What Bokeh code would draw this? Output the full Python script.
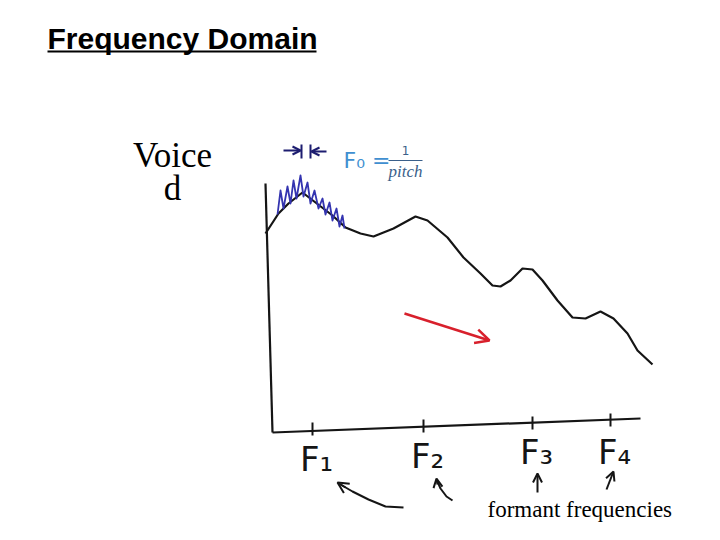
from bokeh.plotting import figure
from bokeh.models import Range1d, Label, Arrow, OpenHead
from bokeh.embed import file_html
from bokeh.resources import INLINE

# spectral envelope (hand-drawn curve), page pixel coords
env_x = [265, 278, 288, 302, 315, 332, 345, 360, 373, 393, 415, 427, 447, 463, 480, 492, 500, 510, 522, 532, 542, 557, 572, 585, 600, 613, 627, 637, 652]
env_y = [233, 213, 203, 192, 202, 215, 227, 233, 236, 228, 216, 220, 237, 257, 273, 285, 286, 280, 268, 269, 280, 300, 317, 318, 311, 318, 333, 350, 364]
# harmonics (blue zig-zag)
harm_x = [277, 280, 283, 287, 290, 293, 296, 300, 303, 307, 310, 314, 318, 322, 325, 329, 332, 336, 339, 342, 344]
harm_y = [214, 190, 208, 186, 203, 180, 198, 175, 196, 182, 203, 190, 208, 198, 214, 202, 220, 208, 226, 215, 228]
# axes of sketch
yaxis_x = [265, 272]
yaxis_y = [183, 432]
xaxis_x = [272, 640]
xaxis_y = [432, 418]
# formant tick positions
formant_x = [312, 423, 532, 610]
formant_y = [428, 425, 422, 419]
formant_labels = ["F\u2081", "F\u2082", "F\u2083", "F\u2084"]
formant_label_y = [458, 455, 451, 451]

p = figure(width=704, height=524, output_backend="svg", toolbar_location=None,
           x_range=Range1d(0, 704), y_range=Range1d(524, 0), min_border=0)
p.axis.visible = False
p.grid.visible = False
p.outline_line_color = None
p.background_fill_color = "white"

ink = "#151515"
# title
p.add_layout(Label(x=47, y=38, text="Frequency Domain", text_font="Liberation Sans",
                   text_font_style="bold", text_font_size="30px", text_color="#000000",
                   text_baseline="middle"))
p.segment(x0=[47], y0=[51], x1=[316], y1=[51], line_color="#000000", line_width=2)

# Voiced
p.add_layout(Label(x=172, y=155, text="Voice", text_font="Liberation Serif", text_color="#000000",
                   text_font_size="35px", text_align="center", text_baseline="middle"))
p.add_layout(Label(x=172, y=188, text="d", text_font="Liberation Serif", text_color="#000000",
                   text_font_size="35px", text_align="center", text_baseline="middle"))

# sketch axes
p.line(yaxis_x, yaxis_y, line_color=ink, line_width=2.2)
p.line(xaxis_x, xaxis_y, line_color=ink, line_width=2.2)
p.segment(x0=formant_x, y0=[y - 6 for y in formant_y], x1=formant_x, y1=[y + 7 for y in formant_y],
          line_color=ink, line_width=2)
for fx, fy, t in zip(formant_x, formant_label_y, formant_labels):
    p.add_layout(Label(x=fx + 4, y=fy, text=t, text_font="DejaVu Sans",
                       text_font_size="34px", text_align="center", text_baseline="middle",
                       text_color=ink))

# envelope and harmonics
p.line(env_x, env_y, line_color=ink, line_width=2.2, line_join="round")
p.line(harm_x, harm_y, line_color="#3434b0", line_width=1.8, line_join="round")

# period marker
navy = "#1d1d70"
p.add_layout(Arrow(x_start=283, y_start=150, x_end=300, y_end=150, line_color=navy, line_width=2,
                   end=OpenHead(size=8, line_color=navy, line_width=2)))
p.add_layout(Arrow(x_start=326, y_start=151, x_end=311, y_end=151, line_color=navy, line_width=2,
                   end=OpenHead(size=8, line_color=navy, line_width=2)))
p.segment(x0=[301, 310], y0=[144, 144], x1=[301, 310], y1=[158, 158], line_color=navy, line_width=2)

# F0 = 1/pitch
blue = "#3f8fd0"
p.add_layout(Label(x=343, y=160, text="F\u2080 =", text_font="DejaVu Sans", text_font_size="22px",
                   text_color=blue, text_baseline="middle"))
p.add_layout(Label(x=405, y=150, text="1", text_font="DejaVu Sans", text_font_size="12px",
                   text_color="#3a5f8a", text_align="center", text_baseline="middle"))
p.segment(x0=[388], y0=[160], x1=[422], y1=[160], line_color="#3a5f8a", line_width=1)
p.add_layout(Label(x=405, y=171, text="pitch", text_font="Liberation Serif", text_font_size="17px",
                   text_font_style="italic", text_color="#3a5f8a", text_align="center",
                   text_baseline="middle"))

# red arrow
red = "#d8202c"
p.add_layout(Arrow(x_start=404, y_start=313, x_end=489, y_end=340, line_color=red, line_width=2.5,
                   end=OpenHead(size=14, line_color=red, line_width=2.5)))

# curved arrows to formants
arr1_x = [403, 385, 368, 352, 340]
arr1_y = [507, 506, 499, 491, 484]
p.line(arr1_x, arr1_y, line_color=ink, line_width=2)
p.add_layout(Arrow(x_start=345, y_start=487, x_end=337, y_end=482, line_color=ink, line_width=2,
                   end=OpenHead(size=11, line_color=ink, line_width=2)))
arr2_x = [452, 446, 440, 437]
arr2_y = [500, 496, 488, 481]
p.line(arr2_x, arr2_y, line_color=ink, line_width=2)
p.add_layout(Arrow(x_start=437, y_start=484, x_end=436, y_end=478, line_color=ink, line_width=2,
                   end=OpenHead(size=9, line_color=ink, line_width=2)))
p.add_layout(Arrow(x_start=537, y_start=492, x_end=537, y_end=473, line_color=ink, line_width=2,
                   end=OpenHead(size=9, line_color=ink, line_width=2)))
p.add_layout(Arrow(x_start=606, y_start=489, x_end=613, y_end=471, line_color=ink, line_width=2,
                   end=OpenHead(size=9, line_color=ink, line_width=2)))

p.add_layout(Label(x=487, y=509, text="formant frequencies", text_font="Liberation Serif",
                   text_font_size="23px", text_baseline="middle", text_color="#000000"))

open("out.html", "w").write(file_html(p, INLINE))
